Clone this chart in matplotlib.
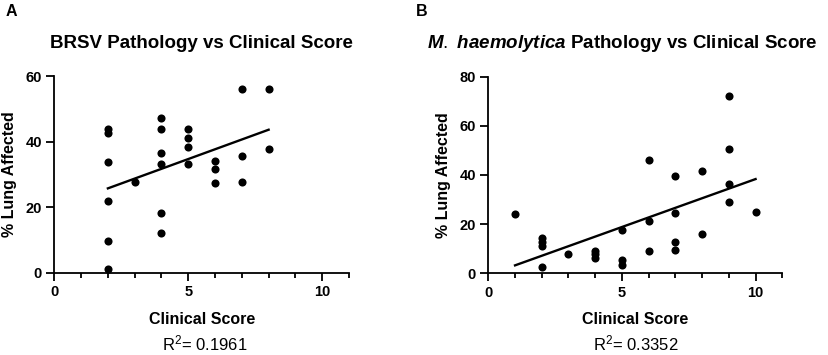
import numpy as np
import matplotlib
matplotlib.use("Agg")
import matplotlib.pyplot as plt
from matplotlib.ticker import MultipleLocator

# ------------------------------------------------------------
# Data
# ------------------------------------------------------------

brsv_score = [2, 2, 2, 2, 2, 2,
              3,
              4, 4, 4, 4, 4, 4,
              5, 5, 5, 5,
              6, 6, 6,
              7, 7, 7,
              8, 8]
brsv_lung = [43.7, 42.5, 33.8, 21.9, 9.7, 1.1,
             27.8,
             47.3, 43.7, 36.4, 33.3, 18.3, 12.1,
             43.7, 41.0, 38.2, 33.3,
             34.2, 31.7, 27.3,
             55.9, 35.5, 27.8,
             55.9, 37.8]

mh_score = [1,
            2, 2, 2, 2,
            3,
            4, 4, 4,
            5, 5, 5,
            6, 6, 6,
            7, 7, 7, 7,
            8, 8,
            9, 9, 9, 9,
            10]
mh_lung = [24.3,
           14.2, 12.6, 11.1, 2.7,
           7.7,
           9.1, 7.9, 6.2,
           17.8, 5.6, 3.3,
           46.0, 21.3, 9.1,
           39.6, 24.5, 12.9, 9.6,
           41.5, 15.9,
           72.0, 50.4, 36.5, 29.2,
           25.1]

panel_letters = ["A", "B"]
r2_labels = ["0.1961", "0.3352"]
y_max = [60, 80]

FONT = "Liberation Sans"

plt.rcParams["font.family"] = [FONT, "DejaVu Sans"]
plt.rcParams["mathtext.fontset"] = "custom"
plt.rcParams["mathtext.rm"] = FONT
plt.rcParams["mathtext.it"] = FONT + ":italic:bold"
plt.rcParams["mathtext.bf"] = FONT + ":bold"

fig = plt.figure(figsize=(8.29, 3.55), dpi=100)

W, H = 829, 355


def add_axes(left, right, bottom, top):

    return fig.add_axes([left / W, 1 - bottom / H,
                         (right - left) / W, (bottom - top) / H])


ax_a = add_axes(54.3, 349.0, 272.7, 76.0)
ax_b = add_axes(488.3, 782.3, 273.3, 76.7)


# ------------------------------------------------------------
# Draw one panel
# ------------------------------------------------------------

def draw_panel(ax, x, y, ymax):

    x = np.array(x, dtype=float)
    y = np.array(y, dtype=float)

    ax.scatter(x, y, s=34, color="black", zorder=3, clip_on=False,
               linewidths=0)

    slope, icpt = np.polyfit(x, y, 1)
    xs = np.array([x.min(), x.max()])
    ax.plot(xs, slope * xs + icpt, color="black", linewidth=1.7)

    ax.set_xlim(0, 11)
    ax.set_ylim(0, ymax)

    ax.xaxis.set_major_locator(MultipleLocator(5))
    ax.xaxis.set_minor_locator(MultipleLocator(1))
    ax.yaxis.set_major_locator(MultipleLocator(20))

    for side in ["top", "right"]:
        ax.spines[side].set_visible(False)

    for side in ["left", "bottom"]:
        ax.spines[side].set_linewidth(1.3)

    ax.tick_params(axis="both", which="major", length=6, width=1.3,
                   labelsize=10.5, pad=3)
    ax.tick_params(axis="x", which="minor", length=3.5, width=1.3)

    for lab in ax.get_xticklabels() + ax.get_yticklabels():
        lab.set_fontweight("bold")

    ax.set_xlabel("Clinical Score", fontsize=11.5, fontweight="bold",
                  labelpad=9)
    ax.set_ylabel("% Lung Affected", fontsize=11.5, fontweight="bold",
                  labelpad=6)


draw_panel(ax_a, brsv_score, brsv_lung, y_max[0])
draw_panel(ax_b, mh_score, mh_lung, y_max[1])

# ------------------------------------------------------------
# Titles, panel letters, R squared
# ------------------------------------------------------------

fig.text(201 / W, 1 - 43 / H, "BRSV Pathology vs Clinical Score",
         ha="center", va="center", fontsize=13.5, fontweight="bold")

fig.text(622 / W, 1 - 43 / H,
         r"$\it{M.\ haemolytica}$ Pathology vs Clinical Score",
         ha="center", va="center", fontsize=13.5, fontweight="bold")

fig.text(6 / W, 1 - 12 / H, panel_letters[0], ha="left", va="center",
         fontsize=11.5, fontweight="bold")
fig.text(416 / W, 1 - 12 / H, panel_letters[1], ha="left", va="center",
         fontsize=11.5, fontweight="bold")

fig.text(205 / W, 1 - 343 / H, r"R$^2$= " + r2_labels[0],
         ha="center", va="center", fontsize=12)
fig.text(636 / W, 1 - 343 / H, r"R$^2$= " + r2_labels[1],
         ha="center", va="center", fontsize=12)

fig.savefig("out.png", dpi=100)
